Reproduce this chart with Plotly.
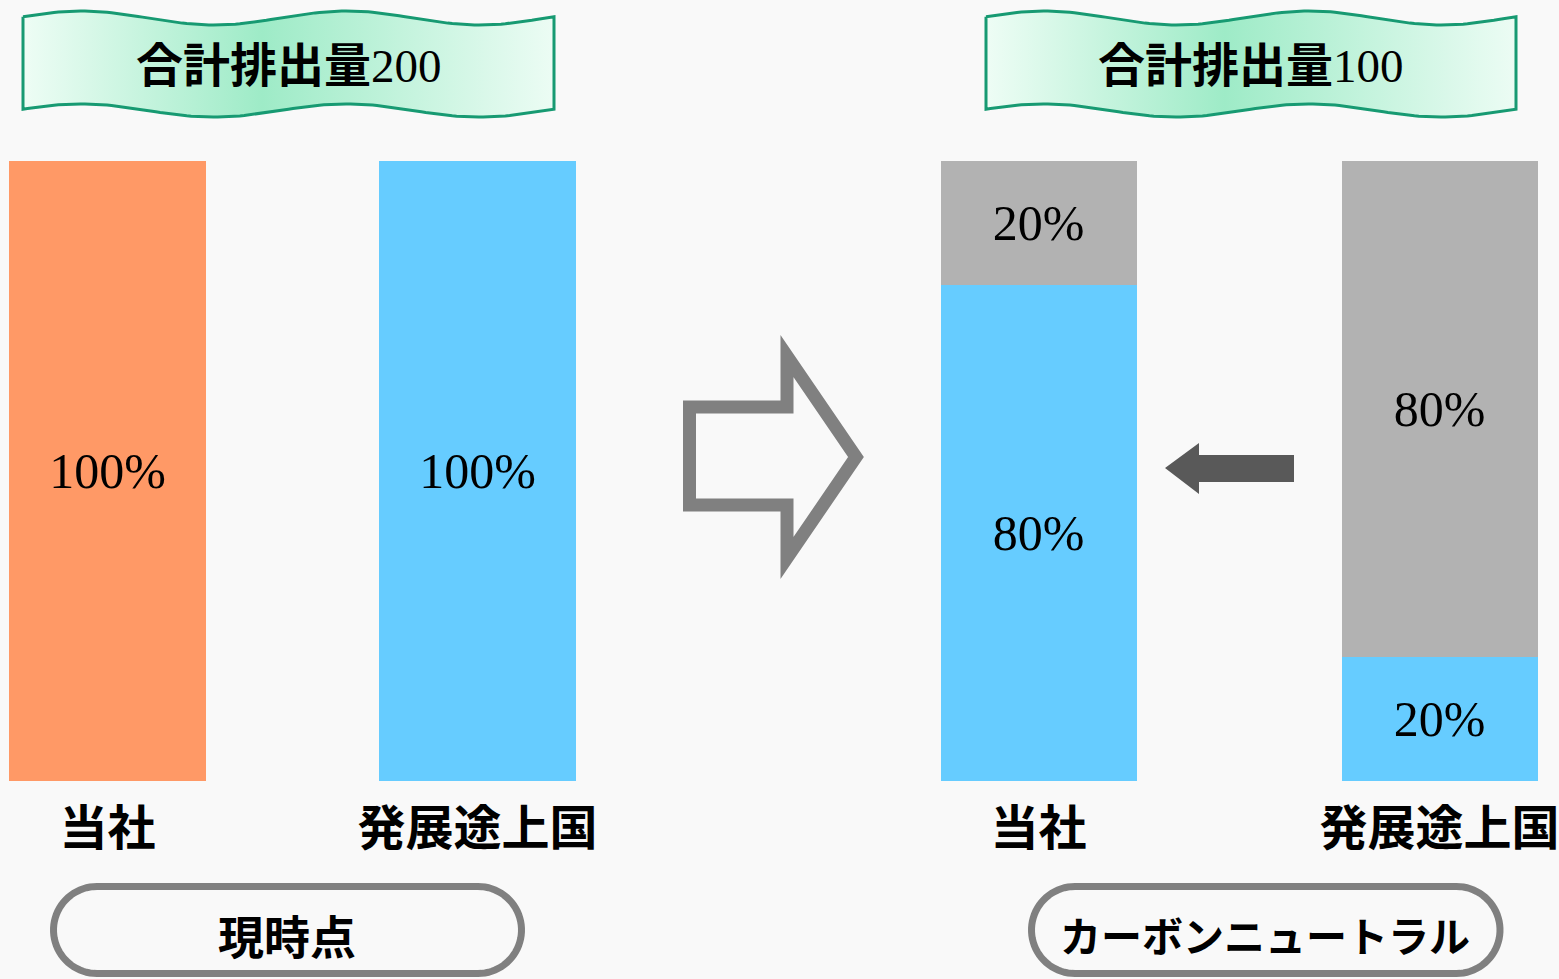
import numpy as np
import plotly.graph_objects as go

W, H = 1559, 979

# ---------------- data ----------------
categories = ["当社", "発展途上国"]
current_values = [100, 100]            # 現時点
current_colors = ["#FF9966", "#66CCFF"]
neutral_emission = [80, 20]            # カーボンニュートラル: blue part
neutral_offset = [20, 80]              # カーボンニュートラル: gray part
banner_title = "合計排出量"
phase_labels = ["現時点", "カーボンニュートラル"]

totals = [sum(current_values), sum(neutral_emission)]

BLUE = "#66CCFF"
GRAY = "#B2B2B2"
SERIF = "Liberation Serif, Noto Sans CJK JP"
CJK = "Noto Sans CJK JP"
BG = "#f9f9f9"

fig = go.Figure()

# ---------------- bars ----------------
fig.add_trace(go.Bar(
    x=categories, y=current_values, xaxis="x", yaxis="y",
    marker=dict(color=current_colors, line=dict(width=0)),
    width=0.532,
    text=[f"{v}%" for v in current_values],
    textposition="inside", insidetextanchor="middle",
    textfont=dict(family=SERIF, size=50, color="black"),
    hoverinfo="skip", showlegend=False,
))
fig.add_trace(go.Bar(
    x=categories, y=neutral_emission, xaxis="x2", yaxis="y",
    marker=dict(color=BLUE, line=dict(width=0)),
    width=0.491,
    text=[f"{v}%" for v in neutral_emission],
    textposition="inside", insidetextanchor="middle",
    textfont=dict(family=SERIF, size=50, color="black"),
    hoverinfo="skip", showlegend=False,
))
fig.add_trace(go.Bar(
    x=categories, y=neutral_offset, xaxis="x2", yaxis="y",
    marker=dict(color=GRAY, line=dict(width=0)),
    width=0.491,
    text=[f"{v}%" for v in neutral_offset],
    textposition="inside", insidetextanchor="middle",
    textfont=dict(family=SERIF, size=50, color="black"),
    hoverinfo="skip", showlegend=False,
))

# ---------------- decorations (pixel space on x3/y3) ----------------
def banner_poly(x0, x1):
    t = np.linspace(0, 1, 121)
    xs = x0 + (x1 - x0) * t
    top = 18 - 7.0 * np.sin(4 * np.pi * t + 0.19)
    bot = 110.5 - 6.6 * np.sin(4 * np.pi * t + 0.19)
    px = list(xs) + list(xs[::-1]) + [xs[0]]
    py = list(top) + list(bot[::-1]) + [top[0]]
    return px, py

for (bx0, bx1) in [(23, 554), (986, 1516)]:
    px, py = banner_poly(bx0, bx1)
    fig.add_trace(go.Scatter(
        x=px, y=py, xaxis="x3", yaxis="y3", mode="lines",
        line=dict(color="#179a72", width=3),
        fill="toself",
        fillgradient=dict(type="horizontal",
                          colorscale=[[0, "#eefdf5"], [0.45, "#9eebc7"], [1, "#ecfcf4"]]),
        hoverinfo="skip", showlegend=False,
    ))

def stadium_path(x0, x1, y0, y1):
    r = (y1 - y0) / 2
    cy = (y0 + y1) / 2
    pts = []
    pts.append((x0 + r, y0))
    pts.append((x1 - r, y0))
    for a in np.linspace(-np.pi / 2, np.pi / 2, 40):
        pts.append((x1 - r + r * np.cos(a), cy + r * np.sin(a)))
    pts.append((x0 + r, y1))
    for a in np.linspace(np.pi / 2, 3 * np.pi / 2, 40):
        pts.append((x0 + r + r * np.cos(a), cy + r * np.sin(a)))
    return "M " + " L ".join(f"{x:.2f},{y:.2f}" for x, y in pts) + " Z"

shapes = []
for (sx0, sx1) in [(53.5, 521.5), (1031.5, 1500)]:
    shapes.append(dict(type="path", xref="x3", yref="y3",
                       path=stadium_path(sx0, sx1, 886.5, 973.5),
                       line=dict(color="#808080", width=7), fillcolor="rgba(0,0,0,0)"))

# hollow right arrow
big_arrow = [(689.5, 407), (787, 407), (787, 356), (856, 457), (787, 558), (787, 505), (689.5, 505)]
shapes.append(dict(type="path", xref="x3", yref="y3",
                   path="M " + " L ".join(f"{x},{y}" for x, y in big_arrow) + " Z",
                   line=dict(color="#808080", width=13), fillcolor="rgba(0,0,0,0)"))

# small filled left arrow
small_arrow = [(1165, 468), (1199, 443), (1199, 455), (1294, 455), (1294, 482), (1199, 482), (1199, 494)]
shapes.append(dict(type="path", xref="x3", yref="y3",
                   path="M " + " L ".join(f"{x},{y}" for x, y in small_arrow) + " Z",
                   line=dict(width=0), fillcolor="#595959"))

annotations = []
for cx, tot in zip([289, 1251], totals):
    annotations.append(dict(xref="x3", yref="y3", x=cx, y=66, showarrow=False,
                            text=f"<b>{banner_title}</b>{tot}",
                            font=dict(family=SERIF, size=47, color="black")))
for cx, lab, fs in zip([287, 1265], phase_labels, [46, 41]):
    annotations.append(dict(xref="x3", yref="y3", x=cx, y=934, showarrow=False,
                            text=f"<b>{lab}</b>",
                            font=dict(family=CJK, size=fs, color="black")))

axis_pos = (H - 781) / H
y_lo = -(H - 781) / 6.2
y_hi = 100 + 161 / 6.2

tickfont = dict(family=CJK, size=48, color="black", weight="bold")

fig.update_layout(
    width=W, height=H,
    margin=dict(l=0, r=0, t=0, b=0),
    paper_bgcolor=BG, plot_bgcolor="rgba(0,0,0,0)",
    barmode="stack", bargap=0,
    showlegend=False,
    xaxis=dict(domain=[0, 0.5], range=[-0.2905, 1.8162], anchor="free", position=axis_pos,
               showgrid=False, zeroline=False, showline=False,
               ticks="outside", ticklen=5, tickcolor="rgba(0,0,0,0)", tickfont=tickfont,
               fixedrange=True),
    xaxis2=dict(domain=[0.5, 1], range=[-0.6459, 1.2980], anchor="free", position=axis_pos,
                showgrid=False, zeroline=False, showline=False,
                ticks="outside", ticklen=5, tickcolor="rgba(0,0,0,0)", tickfont=tickfont,
                fixedrange=True),
    yaxis=dict(domain=[0, 1], range=[y_lo, y_hi], visible=False, fixedrange=True),
    xaxis3=dict(domain=[0, 1], range=[0, W], visible=False, anchor="y3", fixedrange=True),
    yaxis3=dict(domain=[0, 1], range=[H, 0], visible=False, anchor="x3", fixedrange=True),
    shapes=shapes,
    annotations=annotations,
)

fig.write_html("out.html", config={"displayModeBar": False},
               post_script="document.body.style.margin='0';")
